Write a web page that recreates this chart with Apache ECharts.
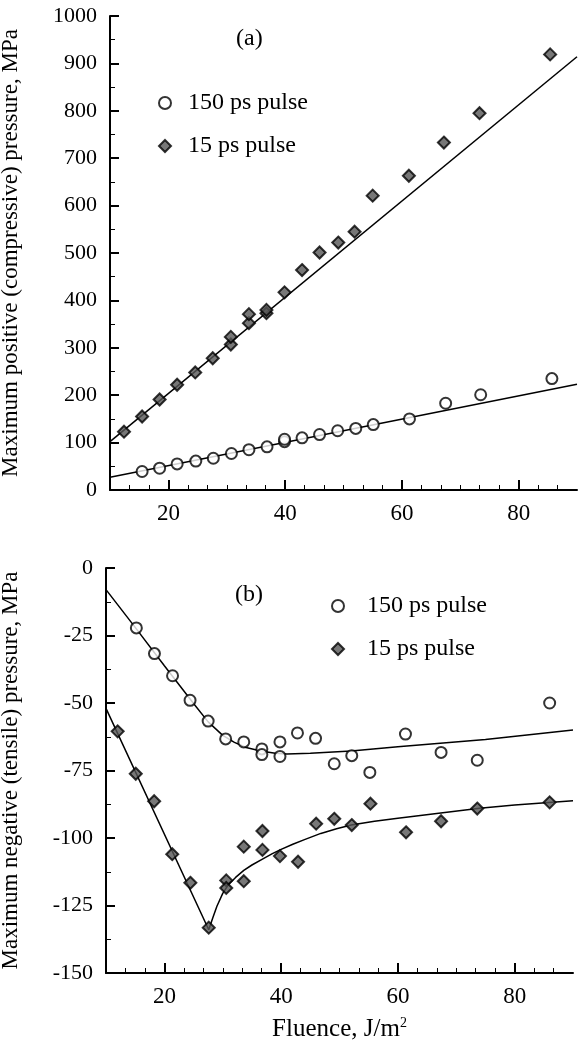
<!DOCTYPE html>
<html>
<head>
<meta charset="utf-8">
<script src="https://cdn.jsdelivr.net/npm/echarts@6.0.0/dist/echarts.min.js"></script>
<style>
html, body { margin: 0; padding: 0; background: #fff; }
#chart { width: 580px; height: 1044px; }
</style>
</head>
<body>
<div id="chart"></div>
<script>
// tick positions on the fluence axis (both panels)
var xMajorTicks = [20, 40, 60, 80];
var xMinorTicks = [13.33, 16.67, 23.33, 26.67, 30, 33.33, 36.67, 43.33, 46.67, 50, 53.33, 56.67,
                   63.33, 66.67, 70, 73.33, 76.67, 83.33, 86.67];

// (a) maximum positive pressure, MPa  [fluence, pressure]
var posLong = [[15.5, 39], [18.5, 46], [21.5, 55], [24.7, 61], [27.7, 67], [30.8, 77], [33.8, 85],
               [36.9, 91], [39.9, 102], [39.9, 107], [42.9, 110], [45.9, 117], [49.0, 125], [52.1, 130],
               [55.1, 138], [61.3, 150], [67.5, 183], [73.5, 201], [85.7, 235]];
var posShort = [[12.4, 123], [15.5, 155], [18.5, 191], [21.5, 222], [24.6, 248], [27.6, 278], [30.7, 307],
                [30.7, 323], [33.8, 352], [33.8, 371], [36.8, 373], [36.8, 380], [39.9, 417], [42.9, 464],
                [45.9, 501], [49.1, 522], [51.9, 545], [55.0, 621], [61.2, 663], [67.2, 733], [73.3, 795],
                [85.4, 919]];
var posLongFit = [[10, 27], [90, 223]];
var posShortFit = [[10, 102], [90, 914]];

// (b) maximum negative pressure, MPa
var negLong = [[15.2, -22.2], [18.3, -31.7], [21.4, -39.9], [24.4, -49], [27.5, -56.7], [30.5, -63.3],
               [33.6, -64.4], [36.7, -67], [36.7, -69.1], [39.8, -64.4], [39.8, -69.8], [42.8, -61.1],
               [45.9, -63.1], [49.1, -72.5], [52.1, -69.5], [55.2, -75.7], [61.3, -61.5], [67.4, -68.3],
               [73.6, -71.2], [86, -50]];
var negShort = [[12, -60.5], [15.1, -76.2], [18.25, -86.4], [21.35, -106], [24.45, -116.6], [27.6, -133.2],
                [30.6, -115.7], [30.6, -118.5], [33.6, -103.2], [33.6, -116], [36.8, -97.4], [36.8, -104.4],
                [39.8, -106.7], [42.9, -108.8], [46, -94.7], [49.1, -92.9], [52.1, -95.2], [55.3, -87.3],
                [61.4, -97.9], [67.4, -93.8], [73.6, -89.1], [86, -86.8]];
var negLongFit = [[10, -8], [15, -22], [20, -36.2], [25, -50.2], [27.5, -57], [30, -62], [32, -64.6],
                  [34, -66.5], [36.5, -67.8], [39, -68.6], [41, -68.9], [45, -68.6], [52, -67.8],
                  [60, -66.2], [75, -63.5], [90, -60]];
var negShortFit = [[10, -52], [27.6, -134], [28.3, -129.5], [29, -125.3], [30, -120.5], [31, -117.2],
                   [32.2, -114.6], [33.6, -112], [35, -110], [36.8, -107.8], [38.5, -105.8], [40, -104.2],
                   [42, -102.3], [44, -100.6], [46.8, -98.3], [49.5, -96.6], [52, -95.2], [56, -93.8],
                   [60, -92.7], [67, -90.8], [74, -89], [80, -87.8], [90, -86.2]];

var seriesNames = ['150 ps pulse', '15 ps pulse'];

var FONT = '"Liberation Serif", "Times New Roman", serif';

function xAxes(grid) {
  return [{
    gridIndex: grid, type: 'value', min: 10, max: 90, position: 'bottom',
    axisLine: { onZero: false, lineStyle: { color: '#000', width: 2 } },
    axisTick: { inside: true, length: 10, customValues: xMajorTicks, lineStyle: { color: '#000', width: 2 } },
    axisLabel: { customValues: xMajorTicks, margin: 12, color: '#000', fontFamily: FONT, fontSize: 23 },
    splitLine: { show: false }
  }, {
    // second axis only for the short ticks
    gridIndex: grid, type: 'value', min: 10, max: 90, position: 'bottom',
    axisLine: { show: false, onZero: false },
    axisTick: { inside: true, length: 5, customValues: xMinorTicks, lineStyle: { color: '#000', width: 1 } },
    axisLabel: { show: false },
    splitLine: { show: false }
  }];
}

function yAxis(grid, min, max, step, name, gap) {
  return {
    gridIndex: grid, type: 'value', min: min, max: max, interval: step,
    name: name, nameLocation: 'middle', nameGap: gap, nameRotate: 90,
    nameTextStyle: { color: '#000', fontFamily: FONT, fontSize: 23 },
    axisLine: { onZero: false, lineStyle: { color: '#000', width: 2 } },
    axisTick: { inside: true, length: 9, lineStyle: { color: '#000', width: 2 } },
    minorTick: { show: true, splitNumber: 2, length: 5, lineStyle: { color: '#000', width: 1 } },
    axisLabel: {
      margin: 13, color: '#000', fontFamily: FONT, fontSize: 22,
      formatter: function (v) { return String(v); }
    },
    splitLine: { show: false }
  };
}

function dots(name, data, xi, yi) {
  var open = name === seriesNames[0];
  return {
    name: name, type: 'scatter', xAxisIndex: xi, yAxisIndex: yi, data: data, z: 3,
    symbol: open ? 'circle' : 'diamond',
    symbolSize: open ? 11 : 12,
    itemStyle: open ? { color: '#fff', borderColor: '#000', borderWidth: 2 }
                    : { color: '#555', borderColor: '#000', borderWidth: 2 }
  };
}

function fit(data, xi, yi) {
  return {
    type: 'line', xAxisIndex: xi, yAxisIndex: yi, data: data, z: 1,
    symbol: 'none', silent: true,
    lineStyle: { color: '#000', width: 1.5 }
  };
}

function legend(left, top, pad) {
  return {
    orient: 'vertical', left: left, top: top, padding: 0,
    itemWidth: 12, itemHeight: 12, itemGap: 19,
    selectedMode: false, data: seriesNames,
    textStyle: { color: '#000', fontFamily: FONT, fontSize: 24, padding: [0, 0, 0, pad] }
  };
}

var xs = xAxes(0).concat(xAxes(1));
xs[2].name = 'Fluence, J/m{sup|2}';
xs[2].nameLocation = 'middle';
xs[2].nameGap = 43;
xs[2].nameTextStyle = {
  color: '#000', fontFamily: FONT, fontSize: 25,
  rich: { sup: { fontFamily: FONT, fontSize: 14, verticalAlign: 'top', padding: [0, 0, 12, 0] } }
};

var option = {
  animation: false,
  backgroundColor: '#fff',
  grid: [
    { left: 110, right: 3, top: 16, height: 474, outerBoundsMode: 'none' },
    { left: 106, right: 7, top: 568, height: 405, outerBoundsMode: 'none' }
  ],
  legend: [legend(158, 91, 12), legend(331, 594, 18)],
  graphic: [
    { type: 'text', left: 236, top: 27, style: { text: '(a)', fill: '#000', font: '24px ' + FONT } },
    { type: 'text', left: 235, top: 583, style: { text: '(b)', fill: '#000', font: '24px ' + FONT } }
  ],
  xAxis: xs,
  yAxis: [
    yAxis(0, 0, 1000, 100, 'Maximum positive (compressive) pressure, MPa', 88),
    yAxis(1, -150, 0, 25, 'Maximum negative (tensile) pressure, MPa', 84)
  ],
  series: [
    fit(posLongFit, 0, 0),
    fit(posShortFit, 0, 0),
    dots(seriesNames[0], posLong, 0, 0),
    dots(seriesNames[1], posShort, 0, 0),
    fit(negLongFit, 2, 1),
    fit(negShortFit, 2, 1),
    dots(seriesNames[0], negLong, 2, 1),
    dots(seriesNames[1], negShort, 2, 1)
  ]
};

var myChart = echarts.init(document.getElementById('chart'));
myChart.setOption(option);
</script>
</body>
</html>
